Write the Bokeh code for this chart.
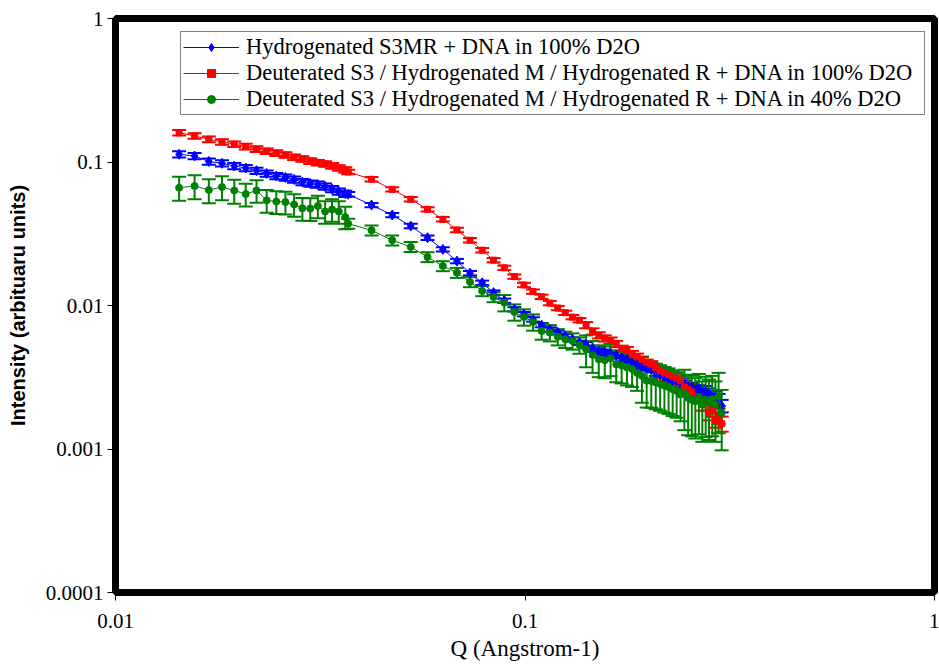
from bokeh.plotting import figure
from bokeh.models import Whisker, TeeHead, ColumnDataSource, FixedTicker, CustomJSTickFormatter
from bokeh.embed import file_html
from bokeh.resources import INLINE

# ---------------- data ----------------
q_low = [0.0143, 0.0156, 0.0169, 0.0182, 0.0195, 0.0208, 0.0221, 0.0234, 0.0247,
         0.0260, 0.0273, 0.0286, 0.0299, 0.0312, 0.0325, 0.0338, 0.0351, 0.0364]
q_high = [0.0370, 0.0422, 0.0474, 0.0526, 0.0578, 0.0630, 0.0682, 0.0734, 0.0786, 0.0838,
          0.0890, 0.0942, 0.0994, 0.1046, 0.1098, 0.1150, 0.1202, 0.1254, 0.1306, 0.1358,
          0.1410, 0.1462, 0.1514, 0.1566, 0.1618, 0.1670, 0.1722, 0.1774, 0.1826, 0.1878,
          0.1930, 0.1982, 0.2034, 0.2086, 0.2138, 0.2190, 0.2242, 0.2294, 0.2346, 0.2398,
          0.2450, 0.2502, 0.2554, 0.2606, 0.2658, 0.2710, 0.2762, 0.2814, 0.2866, 0.2918,
          0.2970, 0.3022]

blue_low = [0.1132, 0.1101, 0.1008, 0.0979, 0.0938, 0.0908, 0.0870, 0.0832, 0.0799,
            0.0780, 0.0755, 0.0725, 0.0708, 0.0697, 0.0675, 0.0648, 0.0623, 0.0601]
blue_high = [0.0596, 0.0501, 0.0427, 0.0358, 0.0297, 0.0246, 0.0204, 0.0168, 0.0144, 0.0123,
             0.0108, 0.0094, 0.0087, 0.0080, 0.0073, 0.0068, 0.0065, 0.0061, 0.0058, 0.0055,
             0.0053, 0.0050, 0.0048, 0.0047, 0.0046, 0.0045, 0.0043, 0.0042, 0.0040, 0.0039,
             0.0038, 0.0037, 0.0036, 0.0034, 0.0033, 0.0032, 0.0031, 0.0030, 0.0030, 0.0029,
             0.0028, 0.0027, 0.0027, 0.0026, 0.0026, 0.0025, 0.0025, 0.0024, 0.0023, 0.0023,
             0.0022, 0.0020]

red_low = [0.160, 0.152, 0.144, 0.138, 0.133, 0.128, 0.123, 0.119, 0.1155,
           0.112, 0.108, 0.105, 0.1016, 0.099, 0.097, 0.094, 0.091, 0.088]
red_high = [0.0852, 0.0758, 0.0645, 0.0550, 0.0468, 0.0399, 0.0336, 0.0285, 0.0243, 0.0207,
            0.0183, 0.0159, 0.0139, 0.0125, 0.0115, 0.0104, 0.0096, 0.0089, 0.0083, 0.0079,
            0.0073, 0.0066, 0.0062, 0.0059, 0.0057, 0.0054, 0.0050, 0.0049, 0.0046, 0.0044,
            0.0042, 0.0040, 0.0039, 0.0037, 0.0035, 0.0034, 0.0033, 0.0032, 0.0031, 0.0030,
            0.0027, 0.0026, 0.0025, 0.0023, 0.0023, 0.0021, 0.0021, 0.0018, 0.0019, 0.0016,
            0.0017, 0.0015]

green_low = [0.0662, 0.0680, 0.0638, 0.0669, 0.0633, 0.0598, 0.0633, 0.0541, 0.0530,
             0.0526, 0.0506, 0.0476, 0.0474, 0.0494, 0.0452, 0.0467, 0.0452, 0.0414]
green_high = [0.0372, 0.0334, 0.0285, 0.0256, 0.0218, 0.01885, 0.01693, 0.01458, 0.01262, 0.01146,
              0.01046, 0.00901, 0.00832, 0.00767, 0.00664, 0.00646, 0.00606, 0.00581, 0.00566, 0.00530,
              0.00495, 0.00452, 0.00422, 0.00415, 0.00429, 0.00389, 0.00382, 0.00370, 0.00361, 0.00339,
              0.00323, 0.00299, 0.00298, 0.00291, 0.00284, 0.00276, 0.00270, 0.00261, 0.00254, 0.00240,
              0.00246, 0.00227, 0.00223, 0.00215, 0.00230, 0.00204, 0.00220, 0.00210, 0.00223, 0.00204,
              0.00234, 0.00178]

# relative error bars (fraction of intensity)
blue_err_low = [0.05, 0.05, 0.05, 0.05, 0.05, 0.05, 0.05, 0.05, 0.05,
                0.05, 0.05, 0.05, 0.05, 0.05, 0.05, 0.05, 0.05, 0.05]
blue_err_high = [0.035, 0.035, 0.035, 0.035, 0.035, 0.035, 0.035, 0.035, 0.035, 0.035,
                 0.035, 0.035, 0.035, 0.035, 0.035, 0.035, 0.035, 0.035, 0.035, 0.035,
                 0.05, 0.05, 0.05, 0.05, 0.05, 0.05, 0.05, 0.05, 0.05, 0.05,
                 0.05, 0.05, 0.05, 0.05, 0.05, 0.07, 0.07, 0.07, 0.07, 0.07,
                 0.07, 0.07, 0.07, 0.07, 0.07, 0.10, 0.10, 0.10, 0.10, 0.10,
                 0.10, 0.10]
red_err_low = [0.045, 0.045, 0.045, 0.045, 0.045, 0.045, 0.045, 0.045, 0.045,
               0.045, 0.045, 0.045, 0.045, 0.045, 0.045, 0.045, 0.045, 0.045]
red_err_high = [0.035, 0.035, 0.035, 0.035, 0.035, 0.035, 0.035, 0.035, 0.035, 0.035,
                0.035, 0.035, 0.035, 0.035, 0.035, 0.035, 0.035, 0.035, 0.035, 0.035,
                0.05, 0.05, 0.05, 0.05, 0.05, 0.05, 0.05, 0.05, 0.05, 0.05,
                0.05, 0.05, 0.05, 0.05, 0.05, 0.08, 0.08, 0.08, 0.08, 0.08,
                0.08, 0.08, 0.08, 0.08, 0.08, 0.12, 0.12, 0.12, 0.12, 0.12,
                0.12, 0.12]
green_err_low = [0.19, 0.19, 0.19, 0.19, 0.19, 0.18, 0.18, 0.18, 0.18,
                 0.18, 0.18, 0.18, 0.18, 0.18, 0.18, 0.18, 0.18, 0.18]
green_err_high = [0.08, 0.08, 0.08, 0.08, 0.08, 0.08, 0.08, 0.08, 0.08, 0.08,
                  0.13, 0.13, 0.13, 0.13, 0.13, 0.13, 0.13, 0.13, 0.13, 0.13,
                  0.25, 0.25, 0.25, 0.25, 0.25, 0.25, 0.25, 0.25, 0.25, 0.25,
                  0.35, 0.35, 0.35, 0.35, 0.35, 0.35, 0.35, 0.35, 0.35, 0.35,
                  0.45, 0.45, 0.45, 0.45, 0.45, 0.45, 0.45, 0.45, 0.45, 0.45,
                  0.45, 0.45]

labels = ["Hydrogenated S3MR + DNA in 100% D2O",
          "Deuterated S3 / Hydrogenated M / Hydrogenated R + DNA in 100% D2O",
          "Deuterated S3 / Hydrogenated M / Hydrogenated R + DNA in 40% D2O"]
x_ticks = [0.01, 0.1, 1]
y_ticks = [0.0001, 0.001, 0.01, 0.1, 1]

SERIF = "Liberation Serif, Times New Roman, serif"

# ---------------- figure ----------------
p = figure(width=939, height=666, output_backend="svg", toolbar_location=None,
           x_axis_type="log", y_axis_type="log",
           x_range=(0.01, 1), y_range=(0.0001, 1),
           min_border_left=115, min_border_right=5, min_border_top=18, min_border_bottom=74,
           background_fill_color="white", border_fill_color="white")
p.grid.visible = False
p.outline_line_color = "black"
p.outline_line_width = 7

q = q_low + q_high
series = [
    (blue_low + blue_high, blue_err_low + blue_err_high, "#0000FF", "diamond", 10, labels[0]),
    (red_low + red_high, red_err_low + red_err_high, "#FF0000", "square", 6, labels[1]),
    (green_low + green_high, green_err_low + green_err_high, "#008000", "circle", 7, labels[2]),
]

for vals, rel, color, marker, size, lab in series:
    up = [v * (1 + r) for v, r in zip(vals, rel)]
    lo = [v * (1 - r) for v, r in zip(vals, rel)]
    src = ColumnDataSource(dict(x=q, y=vals, upper=up, lower=lo))
    w = Whisker(source=src, base="x", upper="upper", lower="lower", dimension="height",
                line_color=color, line_width=2,
                upper_head=TeeHead(size=14, line_color=color, line_width=2),
                lower_head=TeeHead(size=14, line_color=color, line_width=2))
    p.add_layout(w)
    p.line("x", "y", source=src, line_color=color, line_width=1, legend_label=lab)
    p.scatter("x", "y", source=src, marker=marker, size=size, fill_color=color,
              line_color=color, legend_label=lab)

fmt = CustomJSTickFormatter(code="return tick.toString();")
for ax, ticks in ((p.xaxis[0], x_ticks), (p.yaxis[0], y_ticks)):
    ax.ticker = FixedTicker(ticks=ticks, minor_ticks=[])
    ax.formatter = fmt
    ax.axis_line_color = None
    ax.major_tick_line_color = "black"
    ax.major_tick_out = 8
    ax.major_tick_in = 0
    ax.major_label_text_font = SERIF
    ax.major_label_text_font_size = "21px"
    ax.major_label_text_color = "black"
    ax.axis_label_text_color = "black"

p.xaxis.major_label_standoff = 13
p.yaxis.major_label_standoff = 4
p.xaxis.axis_label = "Q (Angstrom-1)"
p.xaxis.axis_label_text_font = SERIF
p.xaxis.axis_label_text_font_size = "23px"
p.xaxis.axis_label_text_font_style = "normal"
p.xaxis.axis_label_standoff = 5
p.yaxis.axis_label = "Intensity (arbituaru units)"
p.yaxis.axis_label_text_font = "Liberation Sans, Arial, sans-serif"
p.yaxis.axis_label_text_font_size = "20px"
p.yaxis.axis_label_text_font_style = "bold"
p.yaxis.axis_label_standoff = 14

lg = p.legend[0]
lg.location = (65, 477)
lg.label_text_font = SERIF
lg.label_text_font_size = "22.5px"
lg.label_text_color = "black"
lg.border_line_color = "black"
lg.border_line_width = 1
lg.background_fill_color = "white"
lg.background_fill_alpha = 1
lg.padding = 2
lg.spacing = 0
lg.glyph_width = 56
lg.glyph_height = 20
lg.label_height = 20
lg.label_standoff = 7
lg.label_width = 676

open("out.html", "w").write(file_html(p, INLINE))
